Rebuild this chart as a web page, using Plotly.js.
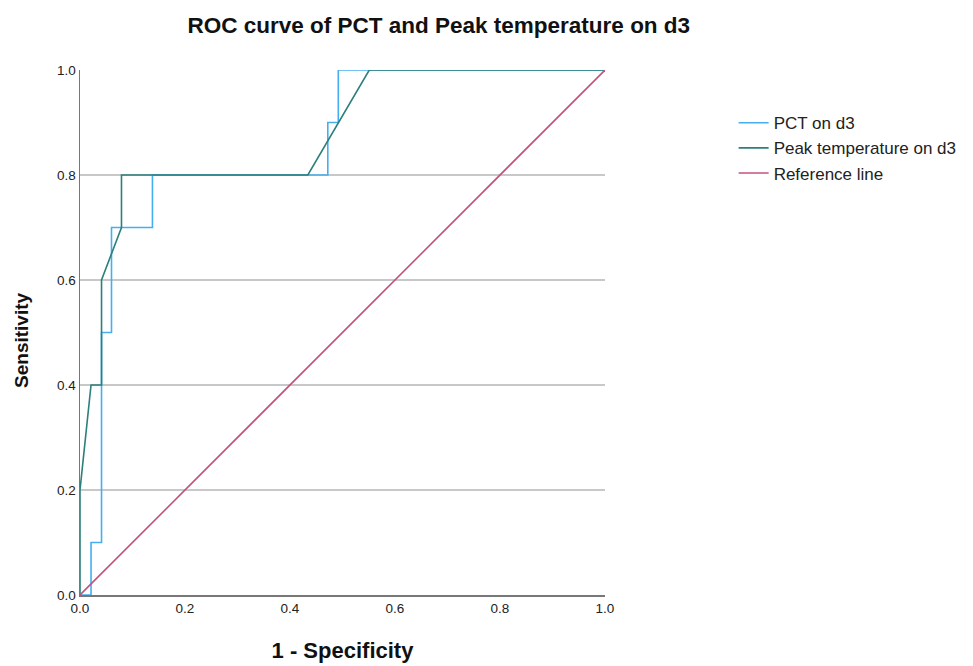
<!DOCTYPE html>
<html>
<head>
<meta charset="utf-8">
<script src="https://cdn.plot.ly/plotly-3.0.1.min.js"></script>
<style>html,body{margin:0;padding:0;background:#fff;}#chart{width:973px;height:666px;}</style>
</head>
<body>
<div id="chart"></div>
<script>
// ROC coordinates (1 - specificity, sensitivity)
const pctFpr  = [0, 0.021, 0.021, 0.041, 0.041, 0.06, 0.06, 0.138, 0.138, 0.472, 0.472, 0.492, 0.492, 1.0];
const pctTpr  = [0, 0,     0.1,   0.1,   0.5,   0.5,  0.7,  0.7,   0.8,   0.8,   0.9,   0.9,   1.0,   1.0];
const peakFpr = [0, 0,   0.021, 0.041, 0.041, 0.079, 0.079, 0.434, 0.551, 1.0];
const peakTpr = [0, 0.2, 0.4,   0.4,   0.6,   0.7,   0.8,   0.8,   1.0,   1.0];
const refX = [0, 1];
const refY = [0, 1];
const seriesNames = ["PCT on d3", "Peak temperature on d3", "Reference line"];
const tickVals = [0, 0.2, 0.4, 0.6, 0.8, 1.0];
const tickText = ["0.0", "0.2", "0.4", "0.6", "0.8", "1.0"];

const font = "Liberation Sans, Arial, sans-serif";
const traces = [
  {x: pctFpr, y: pctTpr, name: seriesNames[0], mode: "lines", line: {color: "#45aef0", width: 1.6}},
  {x: peakFpr, y: peakTpr, name: seriesNames[1], mode: "lines", line: {color: "#2b7f7c", width: 1.6}},
  {x: refX, y: refY, name: seriesNames[2], mode: "lines", line: {color: "#c4507f", width: 1.6}}
];
const layout = {
  width: 973, height: 666,
  margin: {l: 80, r: 368, t: 70, b: 71, autoexpand: false},
  paper_bgcolor: "#fff", plot_bgcolor: "#fff",
  font: {family: font, color: "#222", size: 13.5},
  title: {text: "<b>ROC curve of PCT and Peak temperature on d3</b>", font: {family: font, size: 22.5, color: "#111"}, x: 0.451, xanchor: "center", y: 0.963, yanchor: "middle"},
  xaxis: {
    range: [0, 1], tickvals: tickVals, ticktext: tickText, showgrid: false, zeroline: false,
    showline: true, linecolor: "#777", linewidth: 1.5, ticks: "", ticklen: 0, automargin: false,
    tickfont: {size: 13.5, color: "#222"},
    title: {text: "<b>1 - Specificity</b>", font: {size: 22, color: "#111"}, standoff: 28}
  },
  yaxis: {
    range: [0, 1], tickvals: tickVals, ticktext: tickText, showgrid: true, gridcolor: "#c8c8c8", gridwidth: 1.2,
    zeroline: false, showline: true, linecolor: "#777", linewidth: 1.5, ticks: "", ticklen: 0, automargin: false,
    tickfont: {size: 13.5, color: "#222"},
    title: {text: "<b>Sensitivity&nbsp;&nbsp;&nbsp;</b>", font: {size: 19, color: "#111"}, standoff: 23}
  },
  legend: {x: 1.245, xanchor: "left", y: 0.933, yanchor: "top", font: {size: 17, color: "#222"}, bgcolor: "rgba(0,0,0,0)", tracegroupgap: 0, itemwidth: 30},
  showlegend: true
};
Plotly.newPlot("chart", traces, layout, {displayModeBar: false, staticPlot: true});
</script>
</body>
</html>
